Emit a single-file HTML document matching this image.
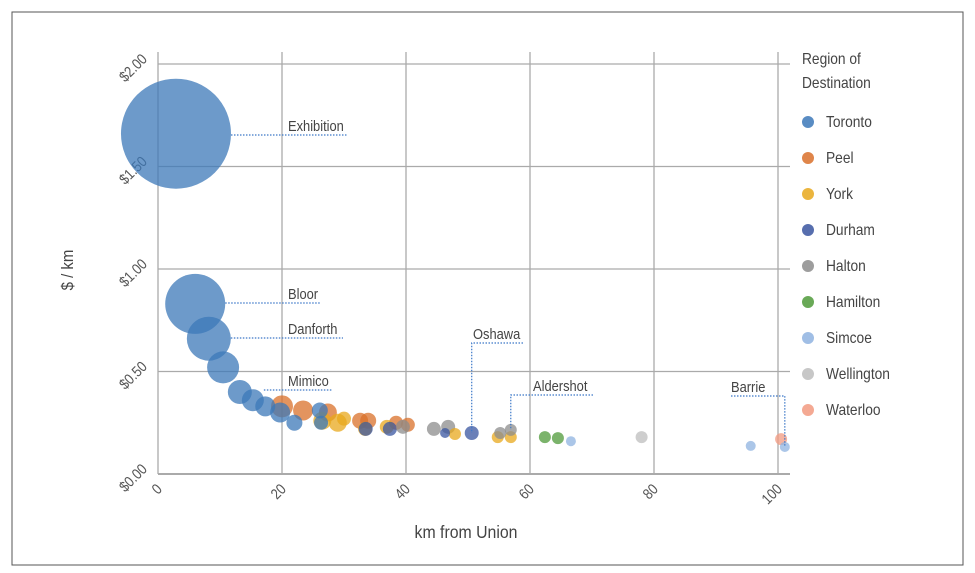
<!DOCTYPE html>
<html><head><meta charset="utf-8"><style>
body{margin:0;background:#fff}
svg{display:block;font-family:"Liberation Sans Narrow","Liberation Sans",sans-serif}
</style></head><body>
<svg width="975" height="573" viewBox="0 0 975 573">
<rect x="12" y="12" width="951" height="553" fill="#fff" stroke="#555" stroke-width="1"/>
<g id="grid"></g>
<g id="axes"></g>
<g id="bubbles"></g>
<g id="labels"></g>
<g id="legend"></g>
<text x="0" y="0" transform="translate(73,270) rotate(-90) scale(0.88,1)" text-anchor="middle" font-size="17" fill="#444">$ / km</text>
<text x="0" y="0" transform="translate(466,538) scale(0.88,1)" text-anchor="middle" font-size="18" fill="#444">km from Union</text>
</svg>
<script>
const regions=["Toronto","Peel","York","Durham","Halton","Hamilton","Simcoe","Wellington","Waterloo"];
const regionColors=["#3c78b8","#d9702a","#e8a81c","#3a55a0","#8c8c8c","#4f9a3a","#8fb3e0","#bdbdbd","#f29a80"];
const xTicks=[0,20,40,60,80,100];
const yTicks=[0,0.5,1.0,1.5,2.0];
const yTickLabels=["$0.00","$0.50","$1.00","$1.50","$2.00"];
const ptKm=[2.9,6,8.2,10.5,13.2,15.3,17.3,19.7,22,26.3,26.1, 20,23.4,27.4,32.6,33.9,38.4,40.3, 26.5,29,33.4,36.9,47.9,54.8,56.9,30, 33.5,37.4,46.3,50.6, 39.5,44.5,46.8,55.2,56.9, 62.4,64.5, 66.6,95.6,101.1, 78, 100.5];
const ptCost=[1.66,0.83,0.66,0.52,0.40,0.36,0.33,0.30,0.25,0.25,0.31, 0.33,0.31,0.30,0.26,0.26,0.25,0.24, 0.26,0.25,0.22,0.23,0.195,0.18,0.18,0.27, 0.22,0.22,0.20,0.20, 0.23,0.22,0.23,0.20,0.215, 0.18,0.175, 0.16,0.137,0.132, 0.18, 0.17];
const ptRegion=[0,0,0,0,0,0,0,0,0,0,0, 1,1,1,1,1,1,1, 2,2,2,2,2,2,2,2, 3,3,3,3, 4,4,4,4,4, 5,5, 6,6,6, 7, 8];
const ptSize=[3025,900,484,256,144,121,100,100,64,49,64, 121,100,81,64,64,49,49, 81,81,49,49,36,36,36,49, 49,49,25,49, 49,49,49,36,36, 36,36, 25,25,25, 36, 36];
const stationNames=["Exhibition","Bloor","Danforth","Mimico","Oshawa","Aldershot","Barrie"];
const stationKm=[2.9,6,8.2,15.3,50.6,56.9,101.1];
const stationCost=[1.66,0.83,0.66,0.36,0.20,0.215,0.132];
const X0=158,X1=778,Y0=474,Y1=64;
const xs=v=>X0+(v-0)/(100-0)*(X1-X0);
const ys=v=>Y0-(v-0)/(2-0)*(Y0-Y1);
const NS="http://www.w3.org/2000/svg";
function mk(tag,parent,attrs){const e=document.createElementNS(NS,tag);for(const k in attrs)e.setAttribute(k,attrs[k]);parent.appendChild(e);return e;}
const SX=0.86;
const grid=document.getElementById('grid'),axes=document.getElementById('axes');
xTicks.forEach((t,i)=>{
  const l=mk('line',grid,{x1:xs(t),x2:xs(t),y1:Y1-12,y2:Y0,stroke:"#aaa","stroke-width":1.3});
  
  
  const tx=mk('text',axes,{transform:`translate(${xs(t)+5},${Y0+16}) rotate(-45) scale(${SX},1)`,"text-anchor":"end","font-size":15,fill:"#555"});
  tx.textContent=t;
  
  
});
yTicks.forEach((t,i)=>{
  const l=mk('line',grid,{x1:X0,x2:X1+12,y1:ys(t),y2:ys(t),stroke:"#aaa","stroke-width":t===0?2:1.3});
  
  
  const tx=mk('text',axes,{transform:`translate(${X0-10},${ys(t)-4}) rotate(-45) scale(${SX},1)`,"text-anchor":"end","font-size":15,fill:"#555"});
  tx.textContent=yTickLabels[i];
  
  
});
const bub=document.getElementById('bubbles');
const order=ptKm.map((_,i)=>i).sort((a,b)=>ptSize[b]-ptSize[a]);
order.forEach(i=>{
  const c=mk('circle',bub,{cx:xs(ptKm[i]),cy:ys(ptCost[i]),r:Math.sqrt(ptSize[i]),fill:regionColors[ptRegion[i]],"fill-opacity":0.75});
  
  
});
const lab=document.getElementById('labels');
const labelPos=[[288,131],[288,299],[288,334],[288,386],[473,339],[533,391],[731,392]];
const lineEnd=[347,320,343,332,523,593,785];
stationNames.forEach((n,i)=>{
  const [lx,ly]=labelPos[i];const px=xs(stationKm[i]),py=ys(stationCost[i]);
  let d;
  if(i<4){d=`M${px+Math.sqrt(ptSize[ptKm.indexOf(stationKm[i])])},${ly+4}H${lineEnd[i]}`;}
  else if(i===6){d=`M${lx},${ly+4}H${px}V${py}`;}
  else{d=`M${lineEnd[i]},${ly+4}H${px}V${py}`;}
  const p=mk('path',lab,{d:d,fill:"none",stroke:"#3c78c8","stroke-width":1.2,"stroke-dasharray":"1.5,1.5"});
  
  
  const t=mk('text',lab,{transform:`translate(${lx},${ly}) scale(${SX},1)`,"font-size":15,fill:"#444"});
  t.textContent=n;
  
  
});
const leg=document.getElementById('legend');
const lt1=mk('text',leg,{transform:`translate(802,64) scale(${SX},1)`,"font-size":16,fill:"#444"});lt1.textContent="Region of";


const lt2=mk('text',leg,{transform:`translate(802,88) scale(${SX},1)`,"font-size":16,fill:"#444"});lt2.textContent="Destination";


regions.forEach((r,i)=>{
  const y=122+i*36;
  const c=mk('circle',leg,{cx:808,cy:y,r:6,fill:regionColors[i],"fill-opacity":0.85});
  
  
  const t=mk('text',leg,{transform:`translate(826,${y+5}) scale(${SX},1)`,"font-size":16,fill:"#444"});
  t.textContent=r;
  
  
});
</script>
</body></html>
